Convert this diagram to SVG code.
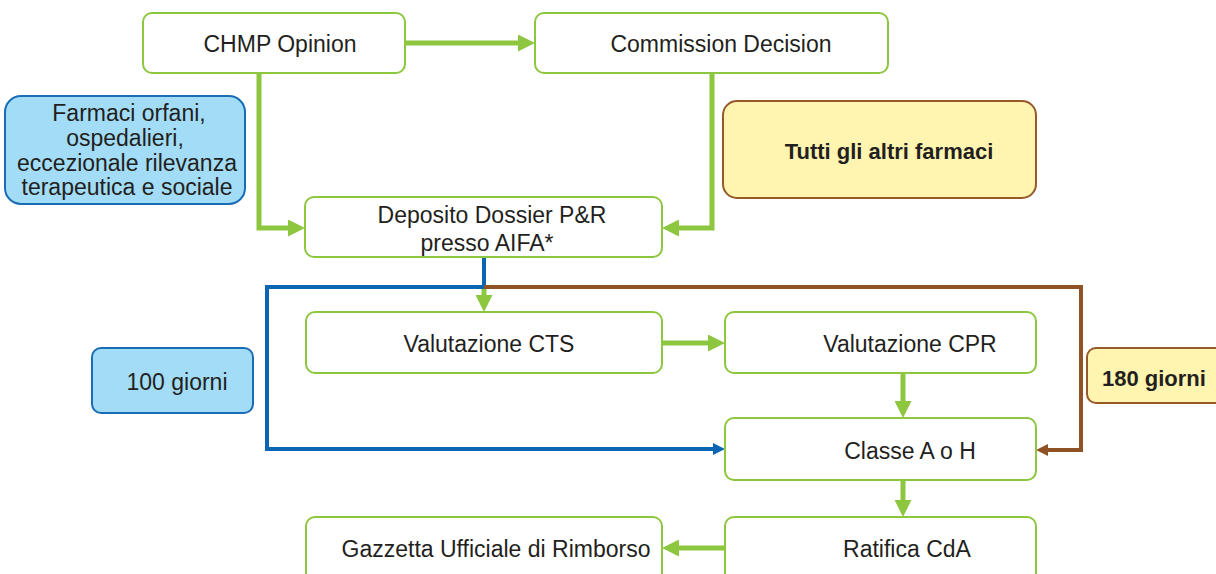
<svg xmlns="http://www.w3.org/2000/svg" width="1216" height="574" viewBox="0 0 1216 574">
<defs>
<style>
.box{fill:#fff;stroke:#8dc63f;stroke-width:2}
.blue{fill:#a2dcf6;stroke:#1a6db4;stroke-width:2}
.yel{fill:#fff5b0;stroke:#965a2a;stroke-width:2}
text{font-family:"Liberation Sans",Arial,sans-serif;font-size:23px;fill:#231f20}
.c{text-anchor:middle}
.b{font-weight:bold}
.g{fill:none;stroke:#8dc63f;stroke-width:5}
.bl{fill:none;stroke:#0a66b2;stroke-width:4}
.br{fill:none;stroke:#8e5225;stroke-width:4}
</style>
<marker id="ag" markerUnits="userSpaceOnUse" viewBox="0 0 17 17" markerWidth="17" markerHeight="17" refX="0" refY="8.5" orient="auto"><path d="M0,0 L17,8.5 L0,17 z" fill="#8dc63f"/></marker>
<marker id="ab" markerUnits="userSpaceOnUse" viewBox="0 0 12 12" markerWidth="12" markerHeight="12" refX="0" refY="6" orient="auto"><path d="M0,0 L12,6 L0,12 z" fill="#0a66b2"/></marker>
<marker id="ar" markerUnits="userSpaceOnUse" viewBox="0 0 12 12" markerWidth="12" markerHeight="12" refX="0" refY="6" orient="auto"><path d="M0,0 L12,6 L0,12 z" fill="#8e5225"/></marker>
</defs>
<rect width="1216" height="574" fill="#fff"/>
<g id="connectors">
<path class="g" d="M405,43 H518" marker-end="url(#ag)"/>
<path class="g" d="M259,73 V228 H288" marker-end="url(#ag)"/>
<path class="g" d="M712,73 V228 H679" marker-end="url(#ag)"/>
<path class="bl" d="M484,257 V287 H267 V449 H713" marker-end="url(#ab)"/>
<path class="br" d="M484,287 H1081 V450 H1048" marker-end="url(#ar)"/>
<path class="g" d="M484,289 V295" marker-end="url(#ag)"/>
<path class="g" d="M662,343 H708" marker-end="url(#ag)"/>
<path class="g" d="M903,373 V401" marker-end="url(#ag)"/>
<path class="g" d="M903,480 V500" marker-end="url(#ag)"/>
<path class="g" d="M725,548 H679" marker-end="url(#ag)"/>
</g>
<g id="chmp"><rect class="box" x="143" y="13" width="262" height="60" rx="9"/><text class="c" x="280" y="52">CHMP Opinion</text></g>
<g id="commission"><rect class="box" x="535" y="13" width="353" height="60" rx="9"/><text class="c" x="721" y="52">Commission Decision</text></g>
<g id="farmaci"><rect class="blue" x="5" y="96" width="240" height="108" rx="16"/>
<text class="c" x="129" y="121">Farmaci orfani,</text>
<text class="c" x="125" y="146">ospedalieri,</text>
<text class="c" x="127" y="171">eccezionale rilevanza</text>
<text class="c" x="127" y="195">terapeutica e sociale</text></g>
<g id="tutti"><rect class="yel" x="723" y="101" width="313" height="97" rx="14"/><text class="c b" x="889" y="159" style="font-size:22px">Tutti gli altri farmaci</text></g>
<g id="deposito"><rect class="box" x="305" y="197" width="357" height="60" rx="9"/><text class="c" x="492" y="223">Deposito Dossier P&amp;R</text><text class="c" x="487" y="251">presso AIFA*</text></g>
<g id="cts"><rect class="box" x="306" y="312" width="356" height="61" rx="9"/><text class="c" x="489" y="352">Valutazione CTS</text></g>
<g id="cpr"><rect class="box" x="725" y="312" width="311" height="61" rx="9"/><text class="c" x="910" y="352">Valutazione CPR</text></g>
<g id="g100"><rect class="blue" x="92" y="348" width="161" height="65" rx="9"/><text class="c" x="177" y="390">100 giorni</text></g>
<g id="g180"><rect class="yel" x="1087" y="348" width="140" height="55" rx="9"/><text class="b" x="1102" y="386" style="font-size:22px">180 giorni</text></g>
<g id="classe"><rect class="box" x="725" y="418" width="311" height="62" rx="9"/><text class="c" x="910" y="459">Classe A o H</text></g>
<g id="gazzetta"><rect class="box" x="306" y="517" width="356" height="70" rx="9"/><text class="c" x="496" y="557">Gazzetta Ufficiale di Rimborso</text></g>
<g id="ratifica"><rect class="box" x="725" y="517" width="311" height="70" rx="9"/><text class="c" x="907" y="557">Ratifica CdA</text></g>
</svg>
